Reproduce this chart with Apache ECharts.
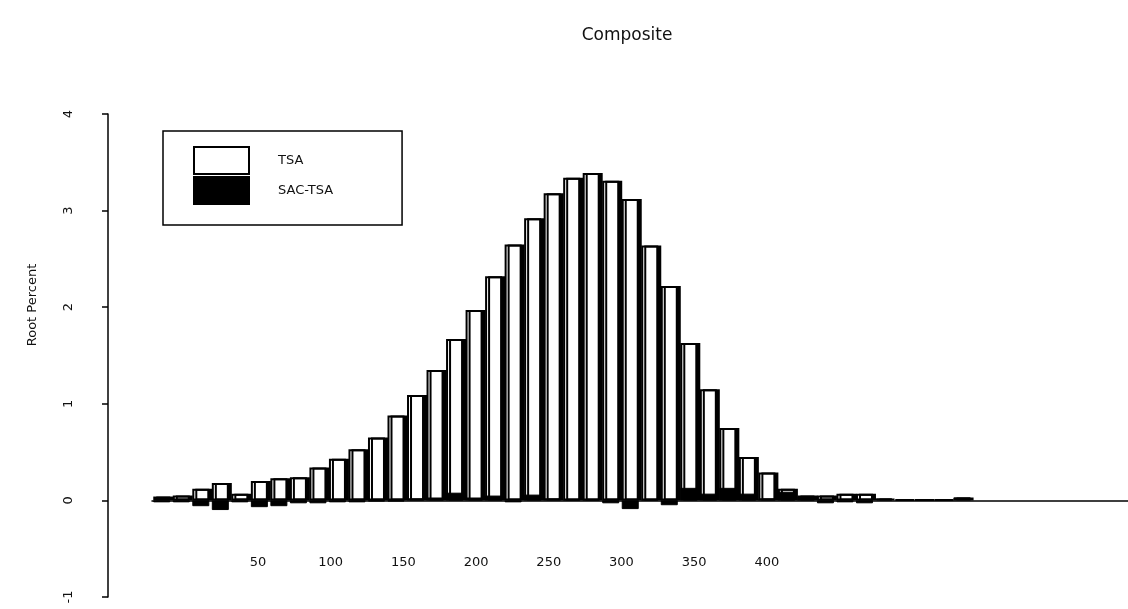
<!DOCTYPE html>
<html lang="en">
<head>
    <meta charset="UTF-8">
    <title>Composite</title>
    <script src="https://cdn.jsdelivr.net/npm/echarts@6/dist/echarts.min.js"></script>
</head>
<style>
    html, body {
        margin: 0;
        padding: 0;
        background: #fff;
    }
    #map {
        width: 1128px;
        height: 609px;
    }
</style>
<body>
<div id="map"></div>
<script>
    // bins along the x direction (42 filled + empty room to the right edge)
    var bins = ['1', '2', '3', '4', '5', '6', '7', '8', '9', '10',
        '11', '12', '13', '14', '15', '16', '17', '18', '19', '20',
        '21', '22', '23', '24', '25', '26', '27', '28', '29', '30',
        '31', '32', '33', '34', '35', '36', '37', '38', '39', '40',
        '41', '42', '43', '44', '45', '46', '47', '48', '49', '50'];
    var tsa = [0.04, 0.05, 0.12, 0.18, 0.07, 0.20, 0.23, 0.24, 0.34, 0.43,
        0.53, 0.65, 0.88, 1.09, 1.35, 1.67, 1.97, 2.32, 2.65, 2.92,
        3.18, 3.34, 3.39, 3.31, 3.12, 2.64, 2.22, 1.63, 1.15, 0.75,
        0.45, 0.29, 0.12, 0.05, 0.05, 0.07, 0.07, 0.02, 0.01, 0.01,
        0.01, 0.03];
    var sacTsa = [-0.02, -0.02, -0.06, -0.10, -0.02, -0.07, -0.06, -0.03, -0.03, -0.02,
        -0.02, -0.01, -0.01, 0.02, 0.03, 0.08, 0.03, 0.05, -0.02, 0.06,
        0.02, 0.01, 0.01, -0.03, -0.09, 0.01, -0.05, 0.13, 0.07, 0.13,
        0.07, 0.02, 0.09, 0.04, -0.03, -0.02, -0.03, 0.02, 0.01, 0.01,
        0.01, 0.03];
    var xTicks = [50, 100, 150, 200, 250, 300, 350, 400];
    var yTicks = [-1, 0, 1, 2, 3, 4];

    var FONT = 'DejaVu Sans';
    var map = echarts.init(document.getElementById('map'), null, {renderer: 'canvas'});

    var option = {
        backgroundColor: '#fff',
        animation: false,
        title: {
            text: 'Composite',
            left: 622,
            top: 22,
            textAlign: 'center',
            textStyle: {fontFamily: FONT, fontSize: 17, fontWeight: 'normal', color: '#111'}
        },
        legend: {
            orient: 'vertical',
            left: 163,
            top: 131,
            padding: [15, 69, 20, 30],
            itemWidth: 55,
            itemHeight: 27,
            itemGap: 1,
            borderColor: '#000',
            borderWidth: 1.5,
            icon: 'rect',
            textStyle: {fontFamily: FONT, fontSize: 13, color: '#111', padding: [0, 0, 0, 24]},
            data: ['TSA', 'SAC-TSA']
        },
        grid: {left: 152, right: 0, top: 114, bottom: 12, containLabel: false},
        xAxis: [{
            type: 'category',
            data: bins,
            axisLine: {onZero: true, lineStyle: {color: '#000', width: 1.5}},
            axisTick: {show: false},
            axisLabel: {show: false},
            splitLine: {show: false}
        }, {
            type: 'value',
            position: 'bottom',
            min: -22.9,
            max: 648.4,
            offset: -41,
            axisLine: {show: false, onZero: false},
            axisTick: {show: false},
            splitLine: {show: false},
            axisLabel: {
                margin: 0,
                customValues: xTicks,
                fontFamily: FONT, fontSize: 13, color: '#111'
            }
        }],
        yAxis: {
            type: 'value',
            min: yTicks[0],
            max: yTicks[yTicks.length - 1],
            interval: 1,
            offset: 44,
            axisLine: {show: true, onZero: false, lineStyle: {color: '#000', width: 1.5}},
            axisTick: {show: true, inside: false, length: 6, lineStyle: {color: '#000', width: 1.5}},
            splitLine: {show: false},
            axisLabel: {
                rotate: 90,
                margin: 33,
                fontFamily: FONT, fontSize: 13, color: '#111'
            }
        },
        graphic: [{
            type: 'text',
            x: 33,
            y: 305,
            rotation: Math.PI / 2,
            style: {
                text: 'Root Percent',
                fontFamily: FONT,
                fontSize: 13,
                fill: '#111',
                align: 'center',
                verticalAlign: 'middle'
            }
        }],
        series: [{
            name: 'TSA',
            type: 'bar',
            xAxisIndex: 0,
            barWidth: 17,
            barGap: '-100%',
            data: tsa,
            itemStyle: {
                color: '#fff',
                borderColor: '#000',
                borderWidth: 2,
                shadowColor: '#000',
                shadowBlur: 0,
                shadowOffsetX: 3
            }
        }, {
            name: 'SAC-TSA',
            type: 'bar',
            xAxisIndex: 0,
            barWidth: 17,
            barGap: '-100%',
            data: sacTsa,
            itemStyle: {color: '#000', borderColor: '#000', borderWidth: 1}
        }]
    };
    map.setOption(option);
</script>
</body>
</html>
